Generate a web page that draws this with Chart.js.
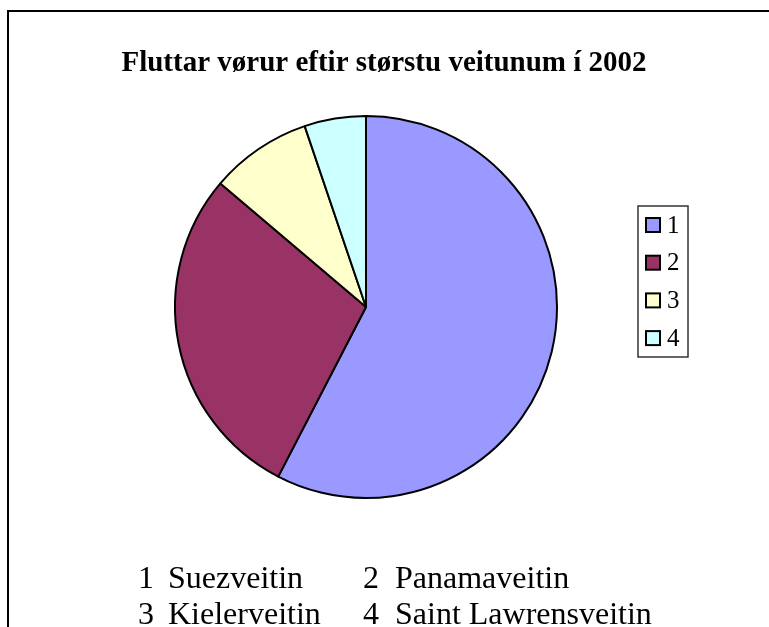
<!DOCTYPE html>
<html>
<head>
<meta charset="utf-8">
<script src="https://cdn.jsdelivr.net/npm/chart.js@4/dist/chart.umd.min.js"></script>
<style>
  html, body { margin: 0; padding: 0; background: #fff; }
  #wrap { width: 769px; height: 627px; }
</style>
</head>
<body>
<div id="wrap"><canvas id="pieChart" width="769" height="627"></canvas></div>
<script>
const chartTitle = 'Fluttar vørur eftir størstu veitunum í 2002';
const categories = ['1', '2', '3', '4'];
const canalNames = ['Suezveitin', 'Panamaveitin', 'Kielerveitin', 'Saint Lawrensveitin'];
const shares = [57.6, 28.6, 8.6, 5.2];
const sliceColors = ['#9999FF', '#993366', '#FFFFCC', '#CCFFFF'];

const serif = '"Liberation Serif", "Times New Roman", serif';

// frame, title, boxed legend and the bottom name table
const decorations = {
  id: 'decorations',
  afterDraw(chart) {
    const ctx = chart.ctx;
    ctx.save();

    // outer frame (runs off the right and bottom edges)
    ctx.strokeStyle = '#000';
    ctx.lineWidth = 2;
    ctx.strokeRect(8, 11, 800, 700);

    // title
    ctx.fillStyle = '#000';
    ctx.font = 'bold 29px ' + serif;
    ctx.textAlign = 'center';
    ctx.textBaseline = 'alphabetic';
    ctx.fillText(chartTitle, 384, 71);

    // legend box
    ctx.strokeStyle = '#333';
    ctx.lineWidth = 1.5;
    ctx.strokeRect(638, 206, 50, 151);
    ctx.font = '25px ' + serif;
    ctx.textAlign = 'left';
    ctx.textBaseline = 'middle';
    categories.forEach((c, i) => {
      const y = 225 + i * 37.7;
      ctx.fillStyle = sliceColors[i];
      ctx.fillRect(646, y - 7, 14, 14);
      ctx.strokeStyle = '#000';
      ctx.lineWidth = 2;
      ctx.strokeRect(646, y - 7, 14, 14);
      ctx.fillStyle = '#000';
      ctx.fillText(c, 667, y + 1);
    });

    // names under the pie, two columns
    ctx.font = '32px ' + serif;
    ctx.textBaseline = 'alphabetic';
    const colNum = [138, 363];
    const colName = [168, 395];
    const rowY = [588, 624];
    categories.forEach((c, i) => {
      const r = Math.floor(i / 2), k = i % 2;
      ctx.fillText(c, colNum[k], rowY[r]);
      ctx.fillText(canalNames[i], colName[k], rowY[r]);
    });

    ctx.restore();
  }
};

const ctx = document.getElementById('pieChart').getContext('2d');
new Chart(ctx, {
  type: 'pie',
  data: {
    labels: categories,
    datasets: [{
      data: shares,
      backgroundColor: sliceColors,
      borderColor: '#000',
      borderWidth: 2
    }]
  },
  options: {
    responsive: false,
    animation: false,
    layout: {
      padding: { left: 174, right: 211, top: 115, bottom: 128 }
    },
    plugins: {
      legend: { display: false },
      title: { display: false },
      tooltip: { enabled: false }
    }
  },
  plugins: [decorations]
});
</script>
</body>
</html>
